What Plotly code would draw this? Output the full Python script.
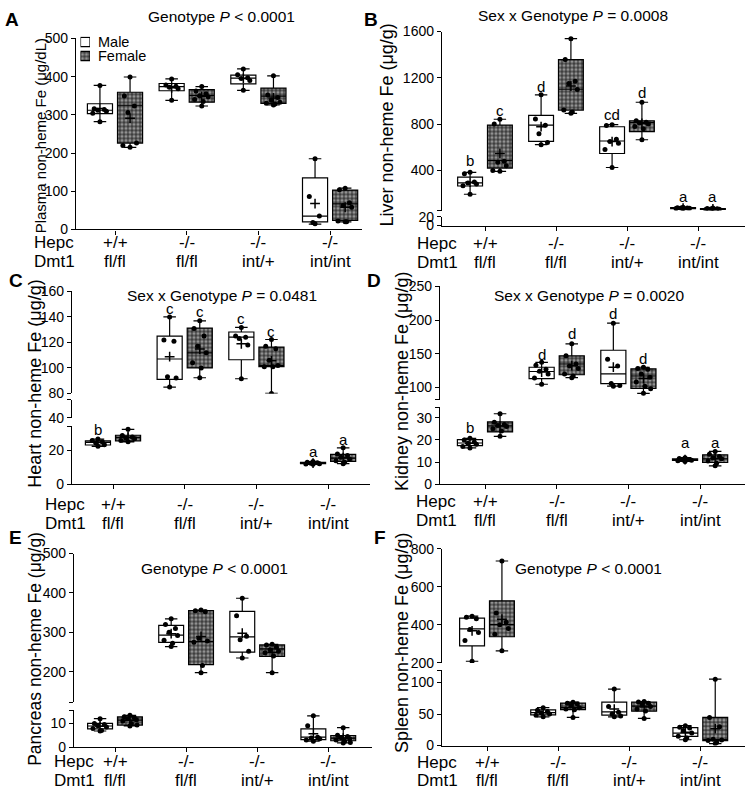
import numpy as np
import plotly.graph_objects as go

FONT = "Liberation Sans, Arial, sans-serif"
W, H = 747, 797

# ---------------- shared category labels ----------------
HEPC = ["+/+", "-/-", "-/-", "-/-"]
DMT1 = ["fl/fl", "fl/fl", "int/+", "int/int"]
GROUPS = [1, 2, 3, 4]

# box stats per group: [min, q1, median, q3, max]
# ---------------- A: Plasma ----------------
A_title = "Genotype <i>P</i> < 0.0001"
A_ylabel = "Plasma non-heme Fe (μg/dL)"
A_male_box = [[282, 303, 312, 329, 377], [338, 363, 374, 382, 394],
              [364, 381, 396, 404, 420], [14, 20, 35, 135, 185]]
A_female_box = [[215, 226, 325, 359, 399], [323, 333, 350, 366, 374],
                [326, 330, 349, 370, 402], [20, 24, 67, 103, 108]]
A_male_pts = [[377, 316, 314, 312, 309, 304, 282], [394, 378, 375, 372, 368, 338],
              [420, 405, 397, 395, 390, 364], [185, 86, 35, 18, 15]]
A_female_pts = [[399, 349, 323, 306, 226, 220, 215], [374, 362, 355, 350, 347, 340, 335, 323],
                [402, 352, 345, 338, 333, 330, 328, 326], [108, 104, 70, 63, 58, 22, 20, 20]]

# ---------------- B: Liver ----------------
B_title = "Sex x Genotype <i>P</i> = 0.0008"
B_ylabel = "Liver non-heme Fe (μg/g)"
B_male_box = [[194, 265, 293, 341, 383], [622, 651, 792, 876, 1053],
              [425, 546, 654, 777, 795], [66, 70, 74, 78, 82]]
B_female_box = [[392, 420, 484, 792, 842], [893, 921, 1101, 1358, 1538],
                [665, 735, 814, 828, 989], [60, 62, 66, 70, 74]]
B_male_pts = [[383, 372, 300, 290, 282, 268, 194], [1053, 845, 790, 716, 640, 622],
              [795, 788, 670, 650, 635, 580, 425], [82, 78, 76, 74, 72, 70, 66]]
B_female_pts = [[842, 800, 480, 470, 440, 400, 392], [1538, 1358, 1170, 1150, 1100, 921, 905, 893],
                [989, 830, 815, 810, 800, 780, 760, 665], [74, 70, 68, 66, 64, 62, 60]]
B_male_letters = ["b", "d", "cd", "a"]
B_male_letter_y = [482, 1124, 885, 172]
B_female_letters = ["c", "e", "d", "a"]
B_female_letter_y = [918, 1673, 1073, 172]

# ---------------- C: Heart ----------------
C_title = "Sex x Genotype <i>P</i> = 0.0481"
C_ylabel = "Heart non-heme Fe (μg/g)"
C_male_box = [[22.5, 23.3, 24.9, 25.8, 26.8], [85, 91, 107, 125, 140],
              [91.5, 106.4, 124.1, 128.2, 131.8], [11.8, 12.2, 12.6, 13, 13.5]]
C_female_box = [[25.2, 25.8, 27.8, 29.1, 32.6], [92.3, 100, 111.8, 131.3, 137],
                [80, 101, 102, 116.4, 122.3], [12.2, 13.6, 15.5, 17.7, 21.6]]
C_male_pts = [[26.8, 26, 25.2, 24.5, 23.5, 22.5], [140, 122, 121, 93, 92, 85],
              [131.8, 125, 124, 123, 118, 91.5], [13.5, 13, 12.8, 12.5, 12.2, 12, 11.8]]
C_female_pts = [[32.6, 29, 28, 27.5, 27, 26, 25.2], [137, 131, 125, 117, 112, 104, 100, 92.3],
                [122.3, 117, 115, 106, 102, 101, 101, 80], [21.6, 18, 17, 16, 15, 14, 13, 12.2]]
C_male_letters = ["b", "c", "c", "a"]
C_male_letter_y = [32.6, 146.7, 138.5, 19.4]
C_female_letters = ["b", "c", "c", "a"]
C_female_letter_y = [37.9, 144, 128.7, 26.8]

# ---------------- D: Kidney ----------------
D_title = "Sex x Genotype <i>P</i> = 0.0020"
D_ylabel = "Kidney non-heme Fe (μg/g)"
D_male_box = [[16.4, 17.4, 18.6, 20.1, 20.7], [104.8, 113, 123.7, 130, 137.3],
              [102, 105.8, 120.3, 155.2, 195.3], [10.3, 10.7, 11.1, 11.5, 12]]
D_female_box = [[21.6, 23.6, 26.3, 28.1, 31.8], [114.5, 118.9, 134.8, 147, 164.8],
                [91.3, 98.5, 117, 127.6, 130], [8.3, 9.8, 11.5, 13.3, 14.8]]
D_male_pts = [[20.7, 20, 19, 18.5, 18, 17, 16.4], [137.3, 133, 127, 124, 120, 114, 104.8],
              [195.3, 142, 132, 106, 103, 102], [12, 11.6, 11.2, 11, 10.8, 10.6, 10.3]]
D_female_pts = [[31.8, 28, 27, 26.5, 26, 25, 24, 21.6], [164.8, 147, 135, 132, 128, 120, 117, 114.5],
                [130, 128, 127, 120, 115, 108, 102, 98, 91.3], [14.8, 13.5, 12.5, 12, 11.5, 10.5, 9.5, 8.3]]
D_male_letters = ["b", "d", "d", "a"]
D_male_letter_y = [25.6, 148.4, 209.8, 18.9]
D_female_letters = ["c", "d", "d", "a"]
D_female_letter_y = [35.6, 179.4, 143.5, 18.9]

# ---------------- E: Pancreas ----------------
E_title = "Genotype <i>P</i> < 0.0001"
E_ylabel = "Pancreas non-heme Fe (μg/g)"
E_male_box = [[6.8, 7.7, 8.9, 10, 12], [263.8, 274.6, 292.8, 317.7, 334.3],
              [234.8, 249.7, 288.7, 353.3, 386.5], [2.5, 3.2, 4.2, 7.7, 13.2]]
E_female_box = [[8.9, 9.3, 11.4, 12.7, 13.4], [197.5, 218.2, 276.2, 355, 356.6],
                [197.5, 239, 258, 268, 269.6], [1.8, 2.7, 3.8, 4.9, 8.2]]
E_male_pts = [[12, 10, 9.5, 9, 8.5, 7.8, 7, 6.8], [334.3, 320, 310, 300, 292, 280, 272, 263.8],
              [386.5, 342, 290, 281, 252, 234.8], [13.2, 9, 4.2, 3.8, 3.5, 3, 2.5]]
E_female_pts = [[13.4, 12.8, 12.5, 12, 11.5, 11, 10, 9.3, 8.9], [356.6, 355, 352, 285, 278, 275, 216, 197.5],
                [269.6, 268, 262, 256, 252, 248, 240, 197.5], [8.2, 5, 4.5, 4, 3.5, 3, 2.5, 2, 1.8]]

# ---------------- F: Spleen ----------------
F_title = "Genotype <i>P</i> < 0.0001"
F_ylabel = "Spleen non-heme Fe (μg/g)"
F_male_box = [[208.6, 289.1, 378.3, 434.9, 445], [45.6, 48.7, 52.3, 56.5, 60.1],
              [45.6, 48.2, 53.4, 68.9, 89.6], [9.3, 14.5, 19.7, 28.5, 31.6]]
F_female_box = [[263.4, 337.1, 400.6, 525.7, 734.9], [44.6, 57, 60.1, 67.4, 68.9],
                [43, 54.4, 62.7, 68.9, 69.9], [3.1, 7.8, 9.3, 44.6, 105.2]]
F_male_pts = [[445, 440, 432, 375, 360, 317, 208.6], [60.1, 56, 54, 52, 50, 48, 45.6],
              [89.6, 62, 53, 50, 47, 45.6], [31.6, 29, 28, 24, 20, 15, 12, 9.3]]
F_female_pts = [[734.9, 462, 414, 400, 380, 350, 263.4], [68.9, 67, 66, 63, 60, 58, 57, 44.6],
                [69.9, 69, 67, 65, 62, 58, 55, 43], [105.2, 44.6, 30, 10, 9, 8, 5, 3.1]]

LEGEND_NAMES = ["Male", "Female"]

# ---------------- layout geometry (pixels) ----------------
PANELS = [
    dict(letter="A", title=A_title, ylabel=A_ylabel, mbox=A_male_box, fbox=A_female_box,
         mpts=A_male_pts, fpts=A_female_pts, mlet=None, flet=None, mlety=None, flety=None,
         xpx=(76, 362), g1=115, step=71.7, ylab_size=15,
         segs=[dict(rng=(0, 500), px=(226, 31), tv=[0, 100, 200, 300, 400, 500], tt=None)],
         title_xy=(221, 9), ylab_xy=(40, 131), rows_y=(239.5, 258.5), row_x=32, let_xy=(3, 12)),
    dict(letter="B", title=B_title, ylabel=B_ylabel, mbox=B_male_box, fbox=B_female_box,
         mpts=B_male_pts, fpts=B_female_pts, mlet=B_male_letters, flet=B_female_letters,
         mlety=B_male_letter_y, flety=B_female_letter_y,
         xpx=(442, 745), g1=485, step=71, ylab_size=18,
         segs=[dict(rng=(0, 20), px=(222, 213), tv=[0, 20], tt=["0", "20"]),
               dict(rng=(53, 1600), px=(206.7, 24), tv=[53, 400, 800, 1200, 1600],
                    tt=["", "400", "800", "1200", "1600"])],
         title_xy=(573, 8), ylab_xy=(387, 120), rows_y=(240, 259.3), row_x=415, let_xy=(362, 12)),
    dict(letter="C", title=C_title, ylabel=C_ylabel, mbox=C_male_box, fbox=C_female_box,
         mpts=C_male_pts, fpts=C_female_pts, mlet=C_male_letters, flet=C_female_letters,
         mlety=C_male_letter_y, flety=C_female_letter_y,
         xpx=(72, 370), g1=113, step=71.7, ylab_size=18,
         segs=[dict(rng=(0, 34.5), px=(486, 426.7), tv=[0, 20, 34.5], tt=["0", "20", ""]),
               dict(rng=(40, 54), px=(418.3, 400), tv=[40, 54], tt=["40", ""]),
               dict(rng=(80, 160), px=(393.3, 289.3), tv=[80, 100, 120, 140, 160], tt=None)],
         title_xy=(221.7, 293.3), ylab_xy=(35, 383.5), rows_y=(506.7, 525.7), row_x=43, let_xy=(7, 278)),
    dict(letter="D", title=D_title, ylabel=D_ylabel, mbox=D_male_box, fbox=D_female_box,
         mpts=D_male_pts, fpts=D_female_pts, mlet=D_male_letters, flet=D_female_letters,
         mlety=D_male_letter_y, flety=D_female_letter_y,
         xpx=(440, 745), g1=485, step=71.7, ylab_size=18,
         segs=[dict(rng=(0, 34.7), px=(486, 407.5), tv=[0, 10, 20, 30, 34.7], tt=["0", "10", "20", "30", ""]),
               dict(rng=(81.5, 250), px=(400, 284), tv=[81.5, 100, 150, 200, 250],
                    tt=["", "100", "150", "200", "250"])],
         title_xy=(588.7, 293.3), ylab_xy=(402, 381.7), rows_y=(503.3, 523.3), row_x=413.7, let_xy=(365, 278)),
    dict(letter="E", title=E_title, ylabel=E_ylabel, mbox=E_male_box, fbox=E_female_box,
         mpts=E_male_pts, fpts=E_female_pts, mlet=None, flet=None, mlety=None, flety=None,
         xpx=(74, 372), g1=115, step=71.1, ylab_size=17.5,
         segs=[dict(rng=(0, 15.5), px=(754.3, 716.7), tv=[0, 10, 15.5], tt=["0", "10", ""]),
               dict(rng=(123, 500), px=(708.3, 556.7), tv=[123, 200, 300, 400, 500],
                    tt=["", "200", "300", "400", "500"])],
         title_xy=(214, 571.7), ylab_xy=(35, 654), rows_y=(769, 788), row_x=51.7, let_xy=(7, 540)),
    dict(letter="F", title=F_title, ylabel=F_ylabel, mbox=F_male_box, fbox=F_female_box,
         mpts=F_male_pts, fpts=F_female_pts, mlet=None, flet=None, mlety=None, flety=None,
         xpx=(442, 745), g1=487, step=71.1, ylab_size=18,
         segs=[dict(rng=(0, 119.6), px=(752.7, 675.7), tv=[0, 50, 100, 119.6], tt=["0", "50", "100", ""]),
               dict(rng=(200, 800), px=(668.3, 551.7), tv=[200, 400, 600, 800], tt=None)],
         title_xy=(588.7, 571.7), ylab_xy=(402, 648), rows_y=(769.5, 788.5), row_x=415, let_xy=(372, 540)),
]

OFF = 0.21      # male/female offset from group centre
BW = 0.35       # box width
JIT = [-0.08, 0.06, -0.03, 0.09, -0.1, 0.02, 0.1, -0.05]
PATTERN = dict(shape=".", fgcolor="#e8e8e8", bgcolor="#3c3c3c", size=4, solidity=0.5)
TICK_SIZE = 14
CAT_SIZE = 17


def pxX(p):
    return p / W


def pxY(p):
    return 1 - p / H


def jitter(n):
    out = []
    for i in range(n):
        out.append(0.0 if i in (0, n - 1) else JIT[(i - 1) % len(JIT)])
    return out


fig = go.Figure()
layout = {}
ann = []
xi = 0
yi = 0

for P in PANELS:
    xi += 1
    xname = "x" if xi == 1 else f"x{xi}"
    xkey = "xaxis" if xi == 1 else f"xaxis{xi}"
    g1, step = P["g1"], P["step"]
    xr = [1 + (P["xpx"][0] - g1) / step, 1 + (P["xpx"][1] - g1) / step]
    ynames = []
    for s in P["segs"]:
        yi += 1
        yname = "y" if yi == 1 else f"y{yi}"
        ykey = "yaxis" if yi == 1 else f"yaxis{yi}"
        ynames.append(yname)
        tt = s["tt"] if s["tt"] is not None else [str(v) for v in s["tv"]]
        layout[ykey] = dict(domain=[pxY(s["px"][0]), pxY(s["px"][1])], range=list(s["rng"]),
                            anchor=xname, showline=True, linecolor="black", linewidth=1.4,
                            ticks="outside", ticklen=4, tickwidth=1.3, tickcolor="black",
                            tickvals=s["tv"], ticktext=tt, tickfont=dict(size=TICK_SIZE, color="black"),
                            showgrid=False, zeroline=False, fixedrange=True)
    layout[xkey] = dict(domain=[pxX(P["xpx"][0]), pxX(P["xpx"][1])], range=xr, anchor=ynames[0],
                        showline=True, linecolor="black", linewidth=1.4, ticks="outside",
                        ticklen=4, tickwidth=1.3, tickcolor="black", tickvals=GROUPS,
                        showticklabels=False, showgrid=False, zeroline=False, fixedrange=True)

    mx = [g - OFF for g in GROUPS]
    fx = [g + OFF for g in GROUPS]
    for yname in ynames:
        common = dict(xaxis=xname, yaxis=yname, showlegend=False, hoverinfo="skip")
        fbox = P["fbox"]
        mbox = P["mbox"]
        fig.add_trace(go.Bar(x=fx, base=[b[1] for b in fbox], y=[b[3] - b[1] for b in fbox],
                             width=BW, marker=dict(color="#3c3c3c", line=dict(width=0), pattern=PATTERN),
                             **common))
        for xs, bx, fill in ((mx, mbox, "white"), (fx, fbox, "rgba(0,0,0,0)")):
            fig.add_trace(go.Box(x=xs, lowerfence=[b[0] for b in bx], q1=[b[1] for b in bx],
                                 median=[b[2] for b in bx], q3=[b[3] for b in bx],
                                 upperfence=[b[4] for b in bx], width=BW, orientation="v",
                                 fillcolor=fill, line=dict(color="black", width=1.2),
                                 whiskerwidth=0.5, boxpoints=False, **common))
        for xs, pts in ((mx, P["mpts"]), (fx, P["fpts"])):
            px_, py_ = [], []
            for xc, vals in zip(xs, pts):
                for j, v in zip(jitter(len(vals)), vals):
                    px_.append(xc + j)
                    py_.append(v)
            fig.add_trace(go.Scatter(x=px_, y=py_, mode="markers",
                                     marker=dict(color="black", size=5), **common))
            fig.add_trace(go.Scatter(x=xs, y=[float(np.mean(v)) for v in pts], mode="markers",
                                     marker=dict(symbol="cross-thin", size=7, color="black",
                                                 line=dict(width=1.5, color="black")), **common))

    # significance letters
    for lets, ly, xs, bx in ((P["mlet"], P["mlety"], mx, P["mbox"]), (P["flet"], P["flety"], fx, P["fbox"])):
        if lets is None:
            continue
        for t, yv, xc, b in zip(lets, ly, xs, bx):
            seg_i = 0
            for k, s in enumerate(P["segs"]):
                if s["rng"][0] <= b[2] <= s["rng"][1]:
                    seg_i = k
            ann.append(dict(text=t, x=xc, y=yv, xref=xname, yref=ynames[seg_i], showarrow=False,
                            font=dict(size=15, color="black"), xanchor="center", yanchor="middle"))

    # titles and labels
    ann.append(dict(text=P["title"], x=pxX(P["title_xy"][0]), y=pxY(P["title_xy"][1]), xref="paper",
                    yref="paper", showarrow=False, font=dict(size=15.5, color="black"),
                    xanchor="center", yanchor="middle"))
    ann.append(dict(text=P["ylabel"], x=pxX(P["ylab_xy"][0]), y=pxY(P["ylab_xy"][1]), xref="paper",
                    yref="paper", showarrow=False, textangle=-90,
                    font=dict(size=P["ylab_size"], color="black"),
                    xanchor="center", yanchor="middle"))
    ann.append(dict(text=f"<b>{P['letter']}</b>", x=pxX(P["let_xy"][0]), y=pxY(P["let_xy"][1]),
                    xref="paper", yref="paper", showarrow=False, font=dict(size=19, color="black"),
                    xanchor="left", yanchor="middle"))
    for row_t, ry in (("Hepc", P["rows_y"][0]), ("Dmt1", P["rows_y"][1])):
        ann.append(dict(text=row_t, x=pxX(P["row_x"]), y=pxY(ry), xref="paper", yref="paper",
                        showarrow=False, font=dict(size=CAT_SIZE, color="black"), xanchor="left",
                        yanchor="middle"))
    for g, h, d in zip(GROUPS, HEPC, DMT1):
        ann.append(dict(text=h, x=g, y=pxY(P["rows_y"][0]), xref=xname, yref="paper", showarrow=False,
                        font=dict(size=CAT_SIZE, color="black"), xanchor="center", yanchor="middle"))
        ann.append(dict(text=d, x=g, y=pxY(P["rows_y"][1]), xref=xname, yref="paper", showarrow=False,
                        font=dict(size=CAT_SIZE, color="black"), xanchor="center", yanchor="middle"))

# ---------------- legend (panel A) ----------------
xi += 1
yi += 1
lx = f"x{xi}"
ly = f"y{yi}"
layout[f"xaxis{xi}"] = dict(domain=[pxX(80.5), pxX(90)], range=[-0.5, 0.5], visible=False,
                            anchor=ly, fixedrange=True)
layout[f"yaxis{yi}"] = dict(domain=[pxY(56), pxY(29)], range=[27, 0], visible=False,
                            anchor=lx, fixedrange=True)
fig.add_trace(go.Bar(x=[0], base=[1], y=[9.5], width=1, xaxis=lx, yaxis=ly, showlegend=False,
                     hoverinfo="skip", marker=dict(color="white", line=dict(color="black", width=1.2))))
fig.add_trace(go.Bar(x=[0], base=[15.3], y=[9.5], width=1, xaxis=lx, yaxis=ly, showlegend=False,
                     hoverinfo="skip", marker=dict(color="#3c3c3c", line=dict(color="black", width=1.2),
                                                   pattern=PATTERN)))
for name, yy in zip(LEGEND_NAMES, (35, 49.3)):
    ann.append(dict(text=name, x=pxX(95.5), y=pxY(yy), xref="paper", yref="paper", showarrow=False,
                    font=dict(size=14.5, color="black"), xanchor="left", yanchor="middle"))

fig.update_layout(width=W, height=H, autosize=False, margin=dict(l=0, r=0, t=0, b=0),
                  paper_bgcolor="white", plot_bgcolor="white", barmode="overlay",
                  font=dict(family=FONT, color="black"), showlegend=False, annotations=ann,
                  **layout)

fig.write_html("out.html", config={"displayModeBar": False},
               post_script="document.body.style.margin='0';document.body.style.padding='0';"
                           "document.documentElement.style.overflow='hidden';")
